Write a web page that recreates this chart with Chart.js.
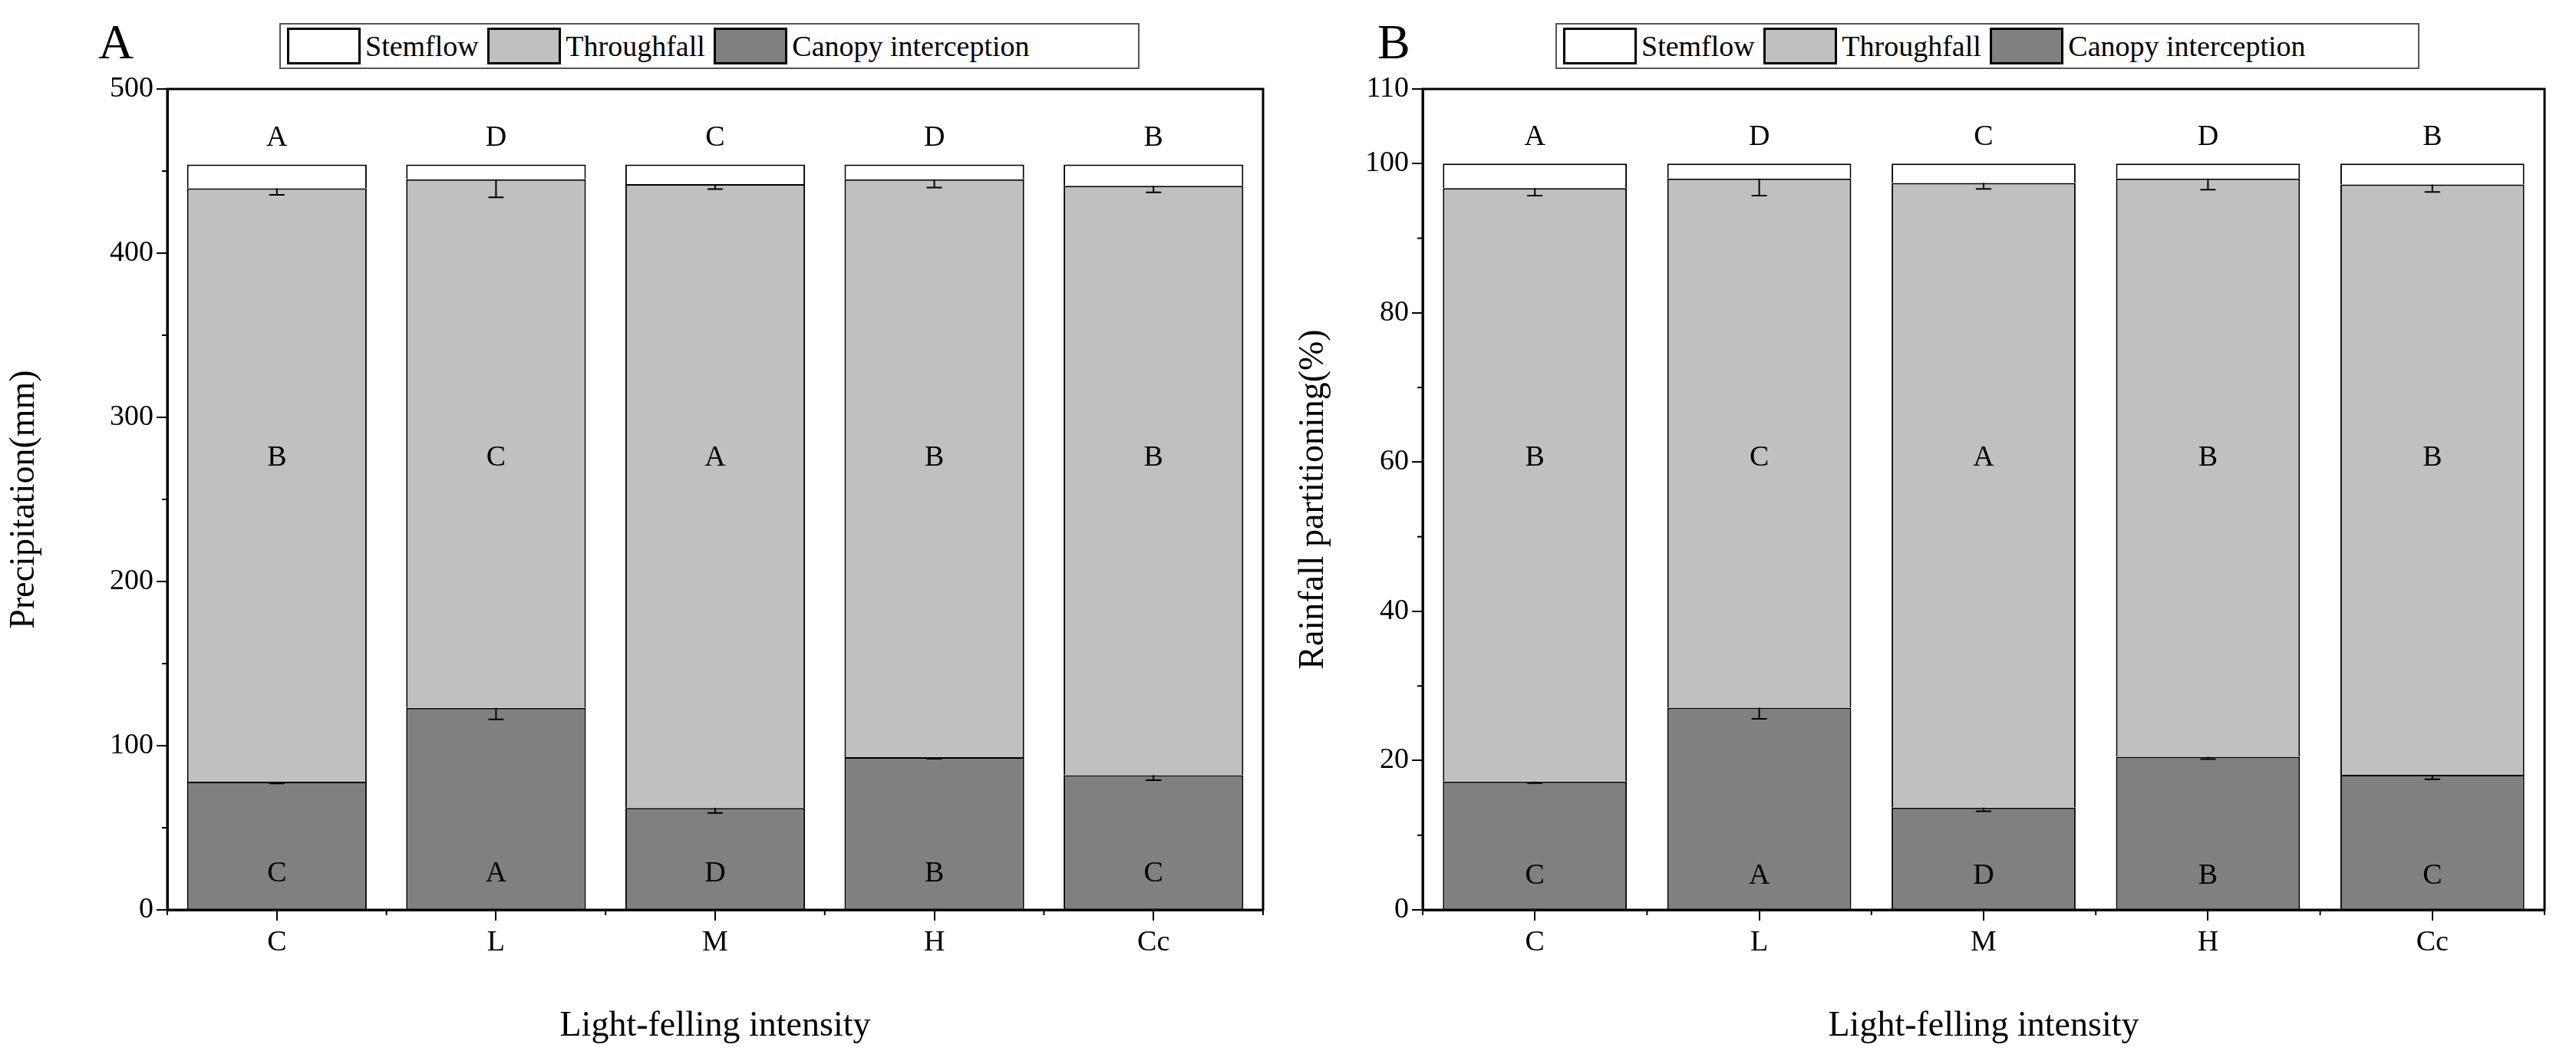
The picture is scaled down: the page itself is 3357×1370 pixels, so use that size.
<!DOCTYPE html>
<html>
<head>
<meta charset="utf-8">
<script src="https://cdn.jsdelivr.net/npm/chart.js@4.4.0/dist/chart.umd.min.js"></script>
<style>
  body { margin: 0; background: #fff; font-family: "Liberation Serif", serif; }
  .panel { position: absolute; top: 0; height: 1370px; }
  .legend { position: absolute; top: 30px; height: 56px; border: 2px solid #555; display: flex; align-items: center; font-size: 38px; padding: 0 6px; background: #fff; }
  .legend span.box { display: inline-block; width: 96px; height: 48px; border: 3px solid #000; margin: 0 6px 0 2px; box-sizing: border-box; }
  .letter { position: absolute; top: 18px; font-size: 64px; }
</style>
</head>
<body>
<div class="panel" style="left:0;width:1680px"><canvas id="chartA"></canvas></div>
<div class="panel" style="left:1680px;width:1677px"><canvas id="chartB"></canvas></div>
<div class="letter" style="left:128px">A</div>
<div class="letter" style="left:1795px">B</div>
<div class="legend" style="left:364px;width:1105px">
  <span class="box" style="background:#fff"></span>Stemflow&nbsp;
  <span class="box" style="background:#c0c0c0"></span>Throughfall&nbsp;
  <span class="box" style="background:#808080"></span>Canopy interception
</div>
<div class="legend" style="left:2027px;width:1110px">
  <span class="box" style="background:#fff"></span>Stemflow&nbsp;
  <span class="box" style="background:#c0c0c0"></span>Throughfall&nbsp;
  <span class="box" style="background:#808080"></span>Canopy interception
</div>
<script>
const categories = ['C', 'L', 'M', 'H', 'Cc'];

// panel A, precipitation (mm)
const canopyA = [78, 123, 62, 93, 82];
const throughA = [361.5, 322, 380, 352, 359];
const stemA = [14.5, 9, 12, 9, 13];
const canopyErrA = [1, 7, 3, 1, 3];
const throughErrA = [4, 11, 3, 5, 4];

// panel B, rainfall partitioning (%)
const canopyB = [17.2, 27.1, 13.7, 20.5, 18.1];
const throughB = [79.5, 70.9, 83.7, 77.5, 79.1];
const stemB = [3.3, 2.0, 2.6, 2.0, 2.8];
const canopyErrB = [0.2, 1.5, 0.5, 0.3, 0.6];
const throughErrB = [1, 2.3, 0.8, 1.5, 1];

// significance letters
const topLetters = ['A', 'D', 'C', 'D', 'B'];
const midLetters = ['B', 'C', 'A', 'B', 'B'];
const bottomLetters = ['C', 'A', 'D', 'B', 'C'];

const FONT = '"Liberation Serif", serif';

const decorPlugin = {
  id: 'decor',
  afterDatasetsDraw(chart, args, opts) {
    const ctx = chart.ctx;
    const x = chart.scales.x, y = chart.scales.y;
    const a = chart.chartArea;
    ctx.save();
    ctx.strokeStyle = '#000';
    ctx.lineWidth = 2;
    // error bars (lower half with cap)
    const canopy = chart.data.datasets[0].data;
    const through = chart.data.datasets[1].data;
    const stem = chart.data.datasets[2].data;
    categories.forEach((c, i) => {
      const cx = x.getPixelForValue(i);
      const bars = [[canopy[i], opts.canopyErr[i]], [canopy[i] + through[i], opts.throughErr[i]]];
      bars.forEach(([v, e]) => {
        const y0 = y.getPixelForValue(v), y1 = y.getPixelForValue(v - e);
        ctx.beginPath();
        ctx.moveTo(cx, y0); ctx.lineTo(cx, y1);
        ctx.moveTo(cx - 10, y1); ctx.lineTo(cx + 10, y1);
        ctx.stroke();
      });
      // letters
      ctx.fillStyle = '#000';
      ctx.font = '38px ' + FONT;
      ctx.textAlign = 'center';
      ctx.textBaseline = 'middle';
      const total = canopy[i] + through[i] + stem[i];
      ctx.fillText(topLetters[i], cx, y.getPixelForValue(total) - 34);
      ctx.fillText(midLetters[i], cx, y.getPixelForValue(opts.midY));
      ctx.fillText(bottomLetters[i], cx, y.getPixelForValue(opts.bottomY));
    });
    // frame
    ctx.lineWidth = 3;
    ctx.strokeRect(a.left, a.top, a.right - a.left, a.bottom - a.top);
    // minor ticks
    ctx.lineWidth = 2;
    for (let v = opts.minorStep; v < y.max; v += opts.majorStep) {
      const py = y.getPixelForValue(v);
      ctx.beginPath(); ctx.moveTo(a.left, py); ctx.lineTo(a.left - 7, py); ctx.stroke();
    }
    for (let i = 0; i <= categories.length; i++) {
      const px = x.getPixelForValue(i - 0.5);
      ctx.beginPath(); ctx.moveTo(px, a.bottom); ctx.lineTo(px, a.bottom + 7); ctx.stroke();
    }
    ctx.restore();
  }
};

function makeChart(id, canopy, through, stem, cErr, tErr, yMax, step, yTitle, leftW, rightPad, midY, bottomY) {
  const ds = (label, data, color) => ({
    label, data, backgroundColor: color, borderColor: '#000', borderWidth: 2,
    barPercentage: 0.82, categoryPercentage: 1
  });
  return new Chart(document.getElementById(id), {
    type: 'bar',
    data: {
      labels: categories,
      datasets: [
        ds('Canopy interception', canopy, '#808080'),
        ds('Throughfall', through, '#c0c0c0'),
        ds('Stemflow', stem, '#ffffff')
      ]
    },
    options: {
      responsive: true,
      maintainAspectRatio: false,
      animation: false,
      layout: { padding: { top: 116, right: rightPad, left: 0, bottom: 0 } },
      plugins: {
        legend: { display: false },
        tooltip: { enabled: false },
        decor: { canopyErr: cErr, throughErr: tErr, midY, bottomY, minorStep: step / 2, majorStep: step }
      },
      scales: {
        x: {
          stacked: true,
          afterFit(s) { s.height = 184; },
          grid: { drawOnChartArea: false, offset: false, tickLength: 14, tickColor: '#000', lineWidth: 2 },
          border: { color: '#000', width: 3 },
          ticks: { color: '#000', font: { family: FONT, size: 38 }, padding: 6 },
          title: { display: true, text: 'Light-felling intensity', color: '#000', font: { family: FONT, size: 46 }, padding: { top: 28 } }
        },
        y: {
          stacked: true,
          min: 0, max: yMax,
          afterFit(s) { s.width = leftW; },
          grid: { drawOnChartArea: false, tickLength: 14, tickColor: '#000', lineWidth: 2 },
          border: { color: '#000', width: 3 },
          ticks: { stepSize: step, color: '#000', font: { family: FONT, size: 38 }, padding: 4 },
          title: { display: true, text: yTitle, color: '#000', font: { family: FONT, size: 46 } }
        }
      }
    },
    plugins: [decorPlugin]
  });
}

makeChart('chartA', canopyA, throughA, stemA, canopyErrA, throughErrA, 500, 100, 'Precipitation(mm)', 218, 34, 275, 22);
makeChart('chartB', canopyB, throughB, stemB, canopyErrB, throughErrB, 110, 20, 'Rainfall partitioning(%)', 174, 41, 60.5, 4.5);
</script>
</body>
</html>
